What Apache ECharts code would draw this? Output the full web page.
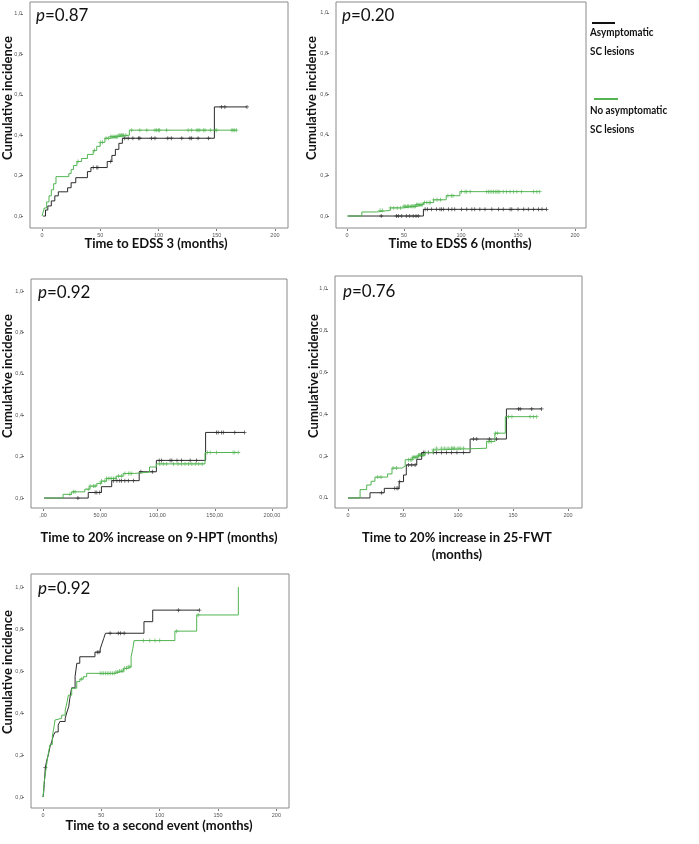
<!DOCTYPE html>
<html>
<head>
<meta charset="utf-8">
<script src="https://cdn.jsdelivr.net/npm/echarts@6/dist/echarts.min.js"></script>
<style>
html,body{margin:0;padding:0;background:#fff;}
#chart{width:699px;height:844px;}
</style>
</head>
<body>
<div id="chart"></div>
<script>
// ---------- tick values / labels ----------
var xTickValues = [0, 50, 100, 150, 200];
var xTickLabels = ['0', '50', '100', '150', '200'];
var xTickLabelsHPT = [',00', '50,00', '100,00', '150,00', '200,00'];
var yTickValues = [0, 0.2, 0.4, 0.6, 0.8, 1.0];
var yTickLabels = ['0,0', '0,2', '0,4', '0,6', '0,8', '1,0'];

// ---------- legend / titles ----------
var groupNames = ['Asymptomatic\nSC lesions', 'No asymptomatic\nSC lesions'];
var pValues = ['0.87', '0.20', '0.92', '0.76', '0.92'];
var xTitles = ['Time to EDSS 3 (months)', 'Time to EDSS 6 (months)',
  'Time to 20% increase on 9-HPT (months)', 'Time to 20% increase in 25-FWT\n(months)',
  'Time to a second event (months)'];
var yTitle = 'Cumulative incidence';

// ---------- Panel 1: EDSS 3 ----------
var p1Black = [[1,0],[3,0.03],[5,0.05],[8,0.075],[11,0.1],[14,0.12],[22,0.14],[25,0.165],[29,0.19],[39,0.22],[42,0.24],[56,0.27],[60,0.3],[63,0.33],[66,0.36],[69,0.385],[148,0.54],[176,0.54]];
var p1Green = [[0,0],[1,0.02],[2,0.04],[4,0.07],[6,0.1],[8,0.13],[10,0.16],[12,0.195],[23,0.21],[25,0.23],[27,0.25],[30,0.27],[34,0.285],[39,0.305],[44,0.325],[47,0.345],[50,0.365],[54,0.385],[58,0.393],[66,0.4],[75,0.425],[167,0.425]];
var p1BlackCens = [44,47,48,59,71,74,78,83,84,94,97,108,111,120,127,128.5,134,143,154,157,176];
var p1GreenCens = [31,45,50,52,55,57,59,60,61,62,63,64,65,66,67,68,69,70,72,77,84,90,97,98.5,100,101,107,125.5,128.5,133,134,135.5,138.5,140,144.5,148.5,150,163,164,165.5,167];

// ---------- Panel 2: EDSS 6 ----------
var p2Black = [[1,0],[67,0.033],[175,0.033]];
var p2Green = [[0,0],[13,0.02],[26,0.028],[38,0.04],[49,0.048],[61,0.056],[67,0.066],[76,0.08],[87,0.1],[99,0.12],[169,0.12]];
var p2BlackCens = [30,43.5,45,48,52,55,58,60.5,62.5,68.5,70.5,74,78.5,81.5,83,84.5,89,92,94.5,100.5,105,109.5,112,116.5,121,127,133,137,143,144.5,150,155,159,163.5,168,171,175];
var p2GreenCens = [29,31,38,41,44,47,50,51,53,54,56,57,58,59,60,61,62,63,64,65,66,68,70,72,73,76,79,82,88.5,91.5,93,100.5,103.5,105,108,122.5,124,125.5,127,128.5,130,131.5,132.5,134,137,140,143,146,149,153,163.5,166.5,169];

// ---------- Panel 3: 9-HPT ----------
var p3Black = [[1,0],[39.5,0.027],[51,0.055],[60,0.084],[84,0.127],[99,0.182],[142,0.317],[176,0.317]];
var p3Green = [[1,0],[17.5,0.018],[25,0.03],[36.5,0.043],[41,0.058],[47,0.071],[51,0.082],[55.5,0.095],[64,0.106],[70,0.119],[80,0.125],[93,0.15],[99,0.165],[141.5,0.22],[170.5,0.22]];
var p3BlackCens = [30.5,45.5,47,49.5,61.5,64.5,67,68.5,71.5,74.5,79,85.5,95.5,101.5,103.5,111,112.5,117,121,128.5,134,151.5,153,156,157.5,167.5,176];
var p3GreenCens = [23.5,26.5,28,39.5,41,44,45.5,50,51,54,55.5,57,58.5,60,61.5,63,66,68.5,71.5,74.5,76,77.5,102,105,108,114,118,121,124,127,130,133,136,139,143.5,146,151.5,166,167.5,170.5];

// ---------- Panel 4: 25-FWT ----------
var p4Black = [[0,0],[20,0.025],[33,0.046],[46.5,0.078],[50.5,0.11],[53,0.158],[62.5,0.185],[67,0.217],[111,0.282],[144,0.426],[176,0.426]];
var p4Green = [[0,0],[11,0.04],[17,0.062],[21,0.08],[24.5,0.1],[36,0.115],[40,0.143],[49,0.152],[52,0.183],[59,0.195],[64,0.205],[70,0.217],[77.5,0.23],[80.5,0.238],[126,0.27],[133.5,0.31],[143,0.389],[171.5,0.389]];
var p4BlackCens = [30.5,42.5,44.5,45.5,47,55,58,61,68.5,70,73,77.5,80.5,85,89.5,94,99,105,114,117,128.5,135,155,156.5,167,176];
var p4GreenCens = [27,30,41,44,55,57,58,59,60,61,62,63,64,65,66,67,68,69,77.5,80.5,85,88,91,94,95.5,97,100,102,105,127.5,129,130.5,134,136,146,149,165.5,168.5,171.5];

// ---------- Panel 5: second event ----------
var p5Black = [[0,0],[0.5,0.02],[1,0.06],[1.5,0.1],[2,0.14],[3,0.17],[4.5,0.2],[6,0.24],[7.5,0.265],[9,0.295],[10.5,0.31],[13,0.343],[14.5,0.36],[19,0.375],[20.5,0.405],[22,0.43],[23,0.47],[24.5,0.52],[27.5,0.575],[29,0.637],[31.5,0.668],[44.5,0.69],[49,0.705],[50.5,0.73],[52,0.755],[53.5,0.78],[86.5,0.835],[94,0.89],[134,0.89]];
var p5Green = [[0,0],[0.5,0.03],[1,0.07],[2,0.11],[3,0.15],[4,0.19],[5,0.22],[6,0.25],[8,0.29],[9,0.32],[10.3,0.367],[12,0.375],[16,0.39],[19,0.414],[20.5,0.45],[21.7,0.485],[24.6,0.518],[28.9,0.55],[31.6,0.562],[34.5,0.573],[37.4,0.589],[62,0.595],[65,0.6],[69,0.613],[73,0.62],[75.5,0.668],[77,0.708],[78,0.745],[113,0.79],[131.7,0.867],[167.4,1.0]];
var p5BlackCens = [2,46.5,48,57.5,64.5,66.5,69.5,116,134];
var p5GreenCens = [33,49,50.5,52,53.5,55,56.5,58,59.5,61,62.5,64,65.5,67,68.5,70,71.5,73,74.5,86,91.5,96,100,114.5,133];

// ---------- styles / layout ----------
var BLACK = '#2b2b2b';
var GREEN = '#52b552';
var FONT = 'Lato';

var panels = [
  {grid:{left:30,top:2,width:258,height:226}, x:[-10.3,211.2], y:[-0.059,1.059], b:p1Black, g:p1Green, bc:p1BlackCens, gc:p1GreenCens, xl:xTickLabels,
   pPos:[36,17], yT:[8,98], xT:[156,244]},
  {grid:{left:336,top:2,width:250,height:226}, x:[-9.65,209.6], y:[-0.059,1.054], b:p2Black, g:p2Green, bc:p2BlackCens, gc:p2GreenCens, xl:xTickLabels,
   pPos:[342,17], yT:[312,98], xT:[460,244]},
  {grid:{left:31,top:279,width:256,height:229}, x:[-10.5,213.1], y:[-0.048,1.058], b:p3Black, g:p3Green, bc:p3BlackCens, gc:p3GreenCens, xl:xTickLabelsHPT,
   pPos:[38,294], yT:[8,376], xT:[159,538]},
  {grid:{left:335,top:276,width:247,height:232}, x:[-11.8,212.7], y:[-0.048,1.062], b:p4Black, g:p4Green, bc:p4BlackCens, gc:p4GreenCens, xl:xTickLabels,
   pPos:[343,293], yT:[314,376], xT:[457,546]},
  {grid:{left:31,top:574,width:258,height:234}, x:[-10.3,210.8], y:[-0.052,1.062], b:p5Black, g:p5Green, bc:p5BlackCens, gc:p5GreenCens, xl:xTickLabels,
   pPos:[38,590], yT:[8,672], xT:[159,826]}
];

function stepValue(curve, t) {
  var v = curve[0][1];
  for (var i = 0; i < curve.length; i++) { if (curve[i][0] <= t) v = curve[i][1]; }
  return v;
}
var PLUS = 'path://M2,0H3V2H5V3H3V5H2V3H0V2H2Z';

var grids = [], xAxes = [], yAxes = [], series = [], graphics = [];
panels.forEach(function (p, i) {
  grids.push(Object.assign({show:true, borderColor:'#8a8a8a', borderWidth:1, backgroundColor:'transparent'}, p.grid));
  var xl = p.xl;
  xAxes.push({type:'value', gridIndex:i, min:p.x[0], max:p.x[1], position:'bottom', offset:1,
    axisLine:{show:false, onZero:false}, splitLine:{show:false},
    axisTick:{show:true, customValues:xTickValues, length:2, lineStyle:{color:'#777'}},
    axisLabel:{customValues:xTickValues, fontSize:5.5, color:'#555', margin:3, fontFamily:'Liberation Sans',
      formatter:function (v) { var k = xTickValues.indexOf(v); return k >= 0 ? xl[k] : ''; }}});
  yAxes.push({type:'value', gridIndex:i, min:p.y[0], max:p.y[1], position:'left', offset:7,
    axisLine:{show:false, onZero:false}, splitLine:{show:false},
    axisTick:{show:true, customValues:yTickValues, length:2, lineStyle:{color:'#777'}},
    axisLabel:{customValues:yTickValues, fontSize:5.5, color:'#555', margin:1, fontFamily:'Liberation Sans',
      formatter:function (v) { var k = yTickValues.findIndex(function (t) { return Math.abs(t - v) < 1e-6; }); return k >= 0 ? yTickLabels[k] : ''; }}});
  [[p.b, p.bc, BLACK], [p.g, p.gc, GREEN]].forEach(function (d) {
    series.push({type:'line', xAxisIndex:i, yAxisIndex:i, data:d[0], step:'end', showSymbol:false, symbol:'none',
      lineStyle:{color:d[2], width:1}, silent:true, animation:false});
    series.push({type:'scatter', xAxisIndex:i, yAxisIndex:i, symbol:PLUS, symbolSize:4,
      itemStyle:{color:d[2]}, silent:true, animation:false,
      data:d[1].map(function (t) { return [t, stepValue(d[0], t)]; })});
  });
  graphics.push({type:'text', left:p.pPos[0], top:p.pPos[1] - 10, style:{
    text:'{i|p}{n|=' + pValues[i] + '}',
    rich:{i:{fontStyle:'italic', fontSize:17, fontFamily:FONT, fill:'#111'}, n:{fontSize:17, fontFamily:FONT, fill:'#111'}}}});
  graphics.push({type:'text', x:p.yT[0], y:p.yT[1], rotation:Math.PI / 2, style:{
    text:yTitle, font:'bold 13px ' + FONT, fill:'#111', textAlign:'center', textVerticalAlign:'middle'}});
  graphics.push({type:'text', x:p.xT[0], y:p.xT[1], style:{
    text:xTitles[i], font:'bold 13px ' + FONT, fill:'#111', textAlign:'center', textVerticalAlign:'middle', lineHeight:17}});
});

// legend (drawn as graphic)
var LEGFONT = 'bold 12px ' + FONT;
graphics.push({type:'line', shape:{x1:592, y1:23, x2:615, y2:23}, style:{stroke:'#111', lineWidth:2}});
graphics.push({type:'text', x:590, y:42, scaleX:0.82, style:{text:groupNames[0], font:LEGFONT, fill:'#111', textVerticalAlign:'middle', lineHeight:19}});
graphics.push({type:'line', shape:{x1:594, y1:99, x2:618, y2:99}, style:{stroke:GREEN, lineWidth:2}});
graphics.push({type:'text', x:590, y:120, scaleX:0.82, style:{text:groupNames[1], font:LEGFONT, fill:'#111', textVerticalAlign:'middle', lineHeight:19}});

var chart = echarts.init(document.getElementById('chart'), null, {renderer:'canvas'});
chart.setOption({animation:false, backgroundColor:'#fff', grid:grids, xAxis:xAxes, yAxis:yAxes, series:series, graphic:graphics});
</script>
</body>
</html>
